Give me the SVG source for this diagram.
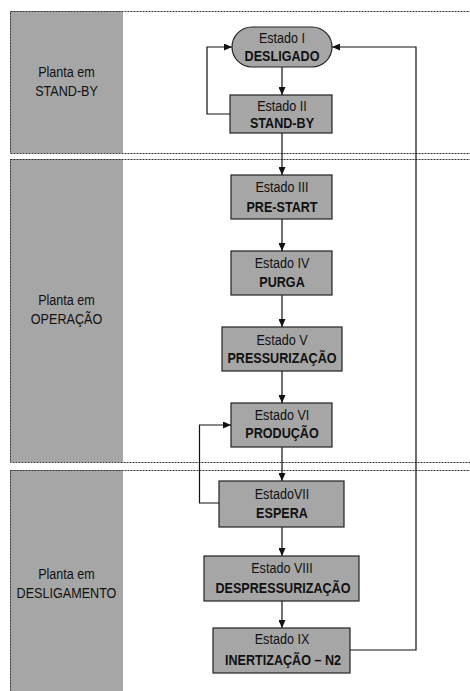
<svg xmlns="http://www.w3.org/2000/svg" width="470" height="691" viewBox="0 0 470 691">
<defs>
<style>
.band{fill:#a6a6a6;stroke:none}
.sec{fill:none;stroke:#333;stroke-width:1;stroke-dasharray:2 1}
.node{fill:#a6a6a6;stroke:#222;stroke-width:1.2}
.t{font-family:"Liberation Sans",Arial,sans-serif;font-size:15px;fill:#111;text-anchor:middle}
.b{font-weight:bold}
.c{fill:none;stroke:#111;stroke-width:1.2}
</style>
<marker id="ah" markerUnits="userSpaceOnUse" markerWidth="8" markerHeight="7" refX="8" refY="3.5" orient="auto">
<path d="M0,0 L8,3.5 L0,7 z" fill="#111"/>
</marker>
</defs>
<rect width="470" height="691" fill="#fff"/>
<g id="section-standby">
<rect class="band" x="10" y="11" width="113" height="142"/>
<rect class="sec" x="10.5" y="11.5" width="470" height="142"/>
<text class="t" transform="translate(66.5 0) scale(0.84 1)" x="0" y="77.5">Planta em</text>
<text class="t" transform="translate(66.5 0) scale(0.84 1)" x="0" y="96.5">STAND-BY</text>
</g>
<g id="section-operacao">
<rect class="band" x="10" y="159" width="113" height="303"/>
<rect class="sec" x="10.5" y="159.5" width="470" height="303"/>
<text class="t" transform="translate(66.5 0) scale(0.84 1)" x="0" y="305.5">Planta em</text>
<text class="t" transform="translate(66.5 0) scale(0.84 1)" x="0" y="324.5">OPERAÇÃO</text>
</g>
<g id="section-desligamento">
<rect class="band" x="10" y="470" width="113" height="230"/>
<rect class="sec" x="10.5" y="470.5" width="470" height="240"/>
<text class="t" transform="translate(66.5 0) scale(0.84 1)" x="0" y="579.5">Planta em</text>
<text class="t" transform="translate(66.5 0) scale(0.84 1)" x="0" y="598">DESLIGAMENTO</text>
</g>
<g id="connectors">
<line class="c" x1="282" y1="67" x2="282" y2="95" marker-end="url(#ah)"/>
<line class="c" x1="282" y1="133" x2="282" y2="175" marker-end="url(#ah)"/>
<line class="c" x1="282" y1="219" x2="282" y2="251" marker-end="url(#ah)"/>
<line class="c" x1="282" y1="295" x2="282" y2="327" marker-end="url(#ah)"/>
<line class="c" x1="282" y1="371" x2="282" y2="403" marker-end="url(#ah)"/>
<line class="c" x1="282" y1="447" x2="282" y2="481" marker-end="url(#ah)"/>
<line class="c" x1="282" y1="527" x2="282" y2="556" marker-end="url(#ah)"/>
<line class="c" x1="282" y1="601" x2="282" y2="628" marker-end="url(#ah)"/>
<polyline class="c" points="230,114 207,114 207,47 232,47" marker-end="url(#ah)"/>
<polyline class="c" points="350,650 416,650 416,47 332,47" marker-end="url(#ah)"/>
<polyline class="c" points="219,503 199.5,503 199.5,425 231,425" marker-end="url(#ah)"/>
</g>
<g id="estado-1">
<rect class="node" x="232" y="27" width="100" height="40" rx="20" ry="20"/>
<text class="t" transform="translate(282 0) scale(0.84 1)" x="0" y="43">Estado I</text>
<text class="t b" transform="translate(282 0) scale(0.84 1)" x="0" y="61.5">DESLIGADO</text>
</g>
<g id="estado-2">
<rect class="node" x="230" y="95" width="102" height="38"/>
<text class="t" transform="translate(282 0) scale(0.84 1)" x="0" y="111.5">Estado II</text>
<text class="t b" transform="translate(282 0) scale(0.84 1)" x="0" y="128.5">STAND-BY</text>
</g>
<g id="estado-3">
<rect class="node" x="231" y="175" width="101" height="44"/>
<text class="t" transform="translate(282 0) scale(0.84 1)" x="0" y="192.5">Estado III</text>
<text class="t b" transform="translate(282 0) scale(0.84 1)" x="0" y="212">PRE-START</text>
</g>
<g id="estado-4">
<rect class="node" x="231" y="251" width="101" height="44"/>
<text class="t" transform="translate(282 0) scale(0.84 1)" x="0" y="268.5">Estado IV</text>
<text class="t b" transform="translate(282 0) scale(0.84 1)" x="0" y="287.5">PURGA</text>
</g>
<g id="estado-5">
<rect class="node" x="222" y="327" width="120" height="44"/>
<text class="t" transform="translate(282 0) scale(0.84 1)" x="0" y="345">Estado V</text>
<text class="t b" transform="translate(282 0) scale(0.84 1)" x="0" y="363.5">PRESSURIZAÇÃO</text>
</g>
<g id="estado-6">
<rect class="node" x="231" y="403" width="101" height="44"/>
<text class="t" transform="translate(282 0) scale(0.84 1)" x="0" y="420">Estado VI</text>
<text class="t b" transform="translate(282 0) scale(0.84 1)" x="0" y="438.5">PRODUÇÃO</text>
</g>
<g id="estado-7">
<rect class="node" x="219" y="481" width="125" height="46"/>
<text class="t" transform="translate(282 0) scale(0.84 1)" x="0" y="499.5">EstadoVII</text>
<text class="t b" transform="translate(282 0) scale(0.84 1)" x="0" y="518.5">ESPERA</text>
</g>
<g id="estado-8">
<rect class="node" x="204" y="556" width="155" height="45"/>
<text class="t" transform="translate(282 0) scale(0.84 1)" x="0" y="573.5">Estado VIII</text>
<text class="t b" transform="translate(283 0) scale(0.84 1)" x="0" y="593.5">DESPRESSURIZAÇÃO</text>
</g>
<g id="estado-9">
<rect class="node" x="213" y="628" width="137" height="45"/>
<text class="t" transform="translate(282 0) scale(0.84 1)" x="0" y="644.5">Estado IX</text>
<text class="t b" transform="translate(283 0) scale(0.84 1)" x="0" y="665">INERTIZAÇÃO – N2</text>
</g>
</svg>
